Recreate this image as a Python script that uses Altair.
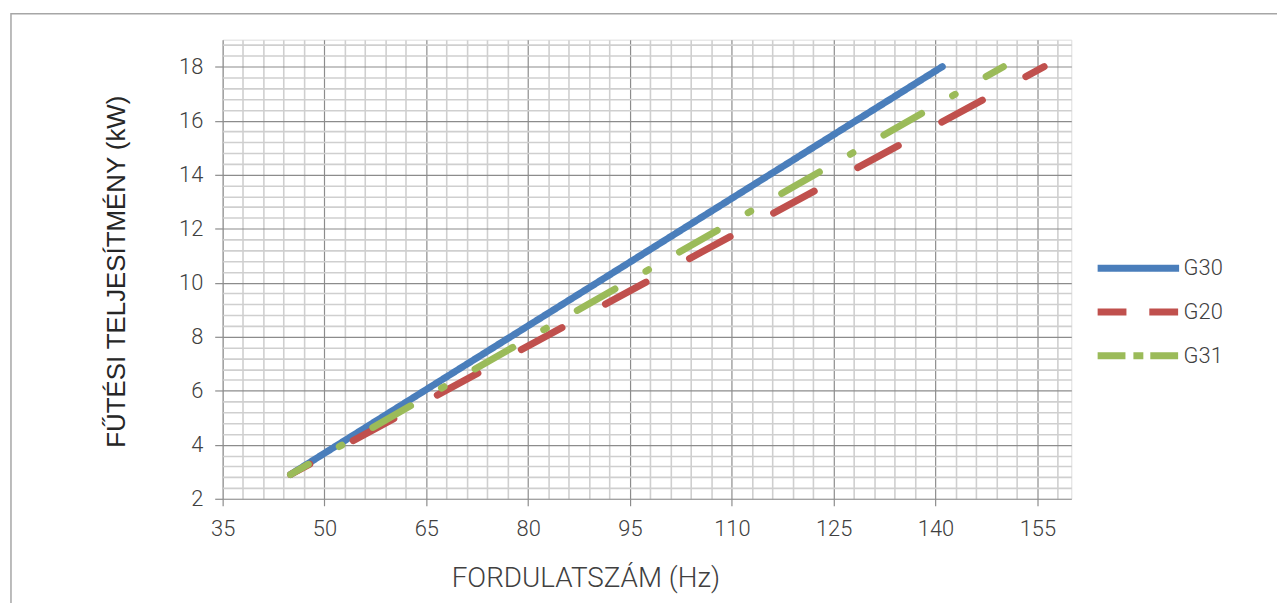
import altair as alt
import pandas as pd

# ---- data ----
series_names = ["G30", "G20", "G31"]
series_colors = ["#4a7ebb", "#c0504d", "#9bbb59"]

g30_hz = [45, 141]
g30_kw = [2.9, 18.0]
g20_hz = [45, 156]
g20_kw = [2.9, 18.0]
g31_hz = [45, 150]
g31_kw = [2.9, 18.0]

x_tick_values = [35, 38, 41, 44, 47, 50, 53, 56, 59, 62, 65, 68, 71, 74, 77, 80, 83, 86, 89,
                 92, 95, 98, 101, 104, 107, 110, 113, 116, 119, 122, 125, 128, 131, 134, 137,
                 140, 143, 146, 149, 152, 155, 158]
y_tick_values = [2.0, 2.4, 2.8, 3.2, 3.6, 4.0, 4.4, 4.8, 5.2, 5.6, 6.0, 6.4, 6.8, 7.2, 7.6,
                 8.0, 8.4, 8.8, 9.2, 9.6, 10.0, 10.4, 10.8, 11.2, 11.6, 12.0, 12.4, 12.8,
                 13.2, 13.6, 14.0, 14.4, 14.8, 15.2, 15.6, 16.0, 16.4, 16.8, 17.2, 17.6,
                 18.0, 18.4, 18.8]

rows = []
for name, hz, kw in [("G30", g30_hz, g30_kw), ("G20", g20_hz, g20_kw), ("G31", g31_hz, g31_kw)]:
    for h, k in zip(hz, kw):
        rows.append({"series": name, "hz": h, "kw": k})
df = pd.DataFrame(rows)

MAJOR = "#8c8c8c"
MINOR = "#cfcfcf"
TXT = "#404040"
FONT = "Roboto"

x_major = "datum.value % 15 === 5"
y_major = "round(datum.value * 10) % 20 === 0"

x_axis = alt.Axis(
    values=x_tick_values, tickCount=500, tickMinStep=0.1,
    labelExpr=f"{x_major} ? format(datum.value, 'd') : ''",
    grid=True,
    gridColor={"condition": {"test": x_major, "value": MAJOR}, "value": MINOR},
    gridWidth={"condition": {"test": x_major, "value": 1.2}, "value": 1.6},
    tickOpacity={"condition": {"test": x_major, "value": 1}, "value": 0},
    tickColor=MAJOR, tickSize=7, tickWidth=1.2,
    domain=False, labelOverlap=False, labelFlush=False,
    labelFont=FONT, labelFontSize=22, labelFontWeight=300, labelColor=TXT,
    labelBaseline="middle", labelPadding=23,
    title="FORDULATSZÁM (Hz)", titleFont=FONT, titleFontSize=28, titleFontWeight=300,
    titleColor=TXT, titleX=365, titleY=80, titleAlign="center", titleBaseline="middle",
    titleAnchor="start",
)
y_axis = alt.Axis(
    values=y_tick_values, tickCount=500, tickMinStep=0.1,
    labelExpr=f"{y_major} ? format(datum.value, 'd') : ''",
    grid=True,
    gridColor={"condition": {"test": y_major, "value": MAJOR}, "value": MINOR},
    gridWidth={"condition": {"test": y_major, "value": 1.2}, "value": 1.6},
    tickOpacity={"condition": {"test": y_major, "value": 1}, "value": 0},
    tickColor=MAJOR, tickSize=8, tickWidth=1.2,
    domain=False, labelOverlap=False, labelFlush=False,
    labelFont=FONT, labelFontSize=22, labelFontWeight=300, labelColor=TXT,
    labelPadding=12,
    title="FŰTÉSI TELJESÍTMÉNY (kW)", titleFont="Liberation Sans", titleFontSize=26,
    titleFontWeight="normal", titleColor="#262626", titleAngle=-90,
    titleX=-107, titleY=233, titleAlign="center", titleBaseline="middle",
    titleAnchor="start",
)

x_enc = alt.X("hz:Q", scale=alt.Scale(domain=[35, 160], nice=False, zero=False), axis=x_axis)
y_enc = alt.Y("kw:Q", scale=alt.Scale(domain=[2, 19], nice=False, zero=False), axis=y_axis)

base = alt.Chart(df)


def series_layer(name, color, dash, offset):
    return base.transform_filter(alt.datum.series == name).mark_line(
        color=color, strokeWidth=7, strokeCap="round", strokeDash=dash,
        strokeDashOffset=offset,
    ).encode(x=x_enc, y=y_enc, order="hz:Q")


l30 = series_layer("G30", series_colors[0], [1, 0], 0)
l20 = series_layer("G20", series_colors[1], [46.5, 49.7], 24.5)
l31 = series_layer("G31", series_colors[2], [43.7, 35.9, 3, 35.9], 23.1)

legend = alt.Legend(
    title=None, orient="none", legendX=877, legendY=220, padding=0,
    clipHeight=20, rowPadding=22, symbolType="stroke", symbolSize=6724,
    symbolStrokeWidth=7, symbolOffset=0, labelOffset=1,
    labelFont=FONT, labelFontSize=22, labelFontWeight=300, labelColor=TXT,
)
leg = base.transform_filter("false").mark_line(strokeWidth=7, strokeCap="round").encode(
    x=x_enc, y=y_enc,
    color=alt.Color("series:N", scale=alt.Scale(domain=series_names, range=series_colors),
                    legend=legend),
    strokeDash=alt.StrokeDash("series:N",
                              scale=alt.Scale(domain=series_names,
                                              range=[[1, 0], [29, 23], [28, 8, 10, 7]]),
                              legend=legend),
)

frame = alt.Chart(pd.DataFrame({"k": [0]})).mark_rect(
    fillOpacity=0, stroke="#a6a6a6", strokeWidth=1.5
).encode(x=alt.value(-213), x2=alt.value(1300), y=alt.value(-26), y2=alt.value(700))

chart = alt.layer(frame, l30, l20, l31, leg).properties(
    width=854, height=462,
    autosize=alt.AutoSizeParams(type="none"),
    padding={"left": 216, "top": 30, "right": 207, "bottom": 103},
).configure_view(strokeWidth=0).configure(background="white", font=FONT)

chart.save("out.html", embed_options={"renderer": "svg", "actions": False})
